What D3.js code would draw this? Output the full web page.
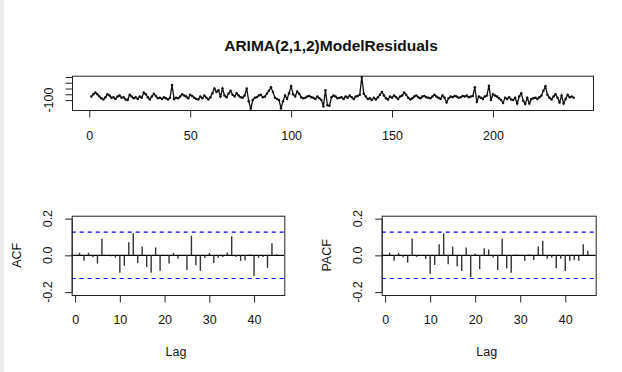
<!DOCTYPE html>
<html>
<head>
<meta charset="utf-8">
<script src="https://cdn.jsdelivr.net/npm/d3@7"></script>
<style>
  body { margin: 0; background: #fff; }
  svg text { font-family: "Liberation Sans", Arial, sans-serif; fill: #111; }
</style>
</head>
<body>
<svg width="622" height="372"></svg>
<script>
// residual series (index 1..240)
const residuals = [
  -70, -50, -35, -50, -70, -85, -95, -75, -50, -60,
  -80, -75, -90, -70, -60, -80, -75, -95, -100, -55,
  -70, -85, -75, -90, -70, -80, -35, -50, -75, -95,
  -70, -45, -65, -85, -80, -90, -75, -85, -95, -80,
  30, -90, -80, -85, -70, -50, -60, -70, -85, -55,
  -65, -80, -90, -95, -70, -85, -60, -80, -95, -75,
  -40, 0, -30, -15, -70, 0, -60, -75, -45, -20,
  -55, -70, -40, -60, -75, -80, -60, 0, -110, -175,
  -100, -80, -75, -60, -55, -75, -70, -45, -20, 10,
  -30, -80, -90, -100, -170, -110, -60, -90, -40, 20,
  -50, -70, -25, -45, -75, -85, -80, -70, -65, -75,
  -80, -90, -70, -85, -100, -155, -15, -145, -150, -75,
  -60, -70, -85, -80, -75, -90, -70, -80, -60, -75,
  -90, -70, -65, -55, 100, -45, -70, -90, -85, -100,
  -80, -95, -75, -55, -30, -60, -85, -95, -70, -80,
  -60, -75, -90, -70, -60, -35, -55, -80, -95, -85,
  -70, -60, -75, -85, -70, -65, -75, -80, -85, -70,
  -55, -70, -80, -90, -60, -80, -120, -85, -70, -75,
  -65, -70, -80, -75, -65, -70, -60, -75, -70, -65,
  10, -115, -70, -80, -90, -70, -60, 25, -100, -50,
  -60, -70, -85, -100, -125, -80, -90, -75, -95, -100,
  -80, -130, -70, -40, -105, -135, -80, -130, -90, -85,
  -80, -90, -75, -60, -20, 20, -55, -80, -95, -70,
  -50, -80, -120, -60, -130, -90, -55, -75, -70, -80
];
const seriesXTicks = [0, 50, 100, 150, 200];
const seriesYTicks = [-100, -50, 0, 50, 100];
const seriesYLabels = ["-100", "", "", "", ""];

const acfValues = [
  0.014, -0.03, 0.014, -0.01, -0.045, 0.09, -0.003, -0.005, -0.012, -0.095,
  -0.057, 0.072, 0.12, -0.041, 0.048, -0.063, -0.095, 0.043, -0.084, -0.003,
  -0.045, 0.013, -0.018, 0.002, -0.08, 0.107, -0.054, -0.084, -0.014, 0.013,
  -0.041, -0.013, -0.009, 0.016, 0.104, -0.009, -0.03, -0.027, 0.005, -0.113,
  -0.013, -0.009, -0.068, 0.066, 0.006
];
const pacfValues = [
  0.014, -0.03, 0.014, -0.01, -0.04, 0.09, -0.008, -0.002, -0.02, -0.1,
  -0.052, 0.06, 0.12, -0.048, 0.048, -0.06, -0.085, 0.043, -0.118, 0.01,
  -0.075, 0.038, 0.032, -0.012, -0.08, 0.09, -0.07, -0.095, 0.005, 0.002,
  -0.03, 0.005, -0.025, 0.048, 0.08, -0.018, -0.012, -0.07, -0.018, -0.085,
  -0.03, -0.025, -0.03, 0.06, 0.025
];
const lagTicks = [0, 10, 20, 30, 40];
const corrTicks = [-0.2, 0, 0.2];
const corrLabels = ["-0.2", "0.0", "0.2"];
const nObs = residuals.length;
const ciBound = 1.96 / Math.sqrt(nObs);

let svg = d3.select("svg");

// left frame strip of the screenshot
svg.append("rect").attr("x", 0).attr("y", 0).attr("width", 4).attr("height", 372).attr("fill", "#ececec");

// R-style 4% padded range
function pad(ext) {
  let d = (ext[1] - ext[0]) * 0.04;
  return [ext[0] - d, ext[1] + d];
}

function box(g, x0, x1, y0, y1) {
  g.append("rect")
    .attr("x", x0 + 0.5).attr("y", y0 + 0.5)
    .attr("width", x1 - x0).attr("height", y1 - y0)
    .attr("fill", "none").attr("stroke", "#222");
}

function bottomAxis(g, x, ticks, y0, labelY) {
  let ax = g.append("g").attr("transform", "translate(0," + (y0 + 0.5) + ")")
    .call(d3.axisBottom(x).tickValues(ticks).tickSize(7).tickPadding(0).tickFormat(d3.format("d")));
  ax.select(".domain").attr("stroke", "#222")
    .attr("d", "M" + x(ticks[0]) + ",0H" + x(ticks[ticks.length - 1]));
  ax.selectAll(".tick line").attr("stroke", "#222");
  ax.selectAll(".tick text").attr("y", labelY).attr("dy", 0)
    .style("font-size", "12.5px").attr("fill", "#111");
}

function leftAxis(g, y, ticks, labels, x0, labelX) {
  let ax = g.append("g").attr("transform", "translate(" + (x0 + 0.5) + ",0)")
    .call(d3.axisLeft(y).tickValues(ticks).tickSize(7).tickFormat(""));
  ax.select(".domain").attr("stroke", "#222")
    .attr("d", "M0," + y(ticks[0]) + "V" + y(ticks[ticks.length - 1]));
  ax.selectAll(".tick line").attr("stroke", "#222");
  ticks.forEach(function (t, i) {
    if (!labels[i]) return;
    g.append("text")
      .attr("transform", "translate(" + labelX + "," + y(t) + ") rotate(-90)")
      .attr("text-anchor", "middle").attr("dy", "0.35em")
      .style("font-size", "12.5px")
      .text(labels[i]);
  });
}

// ---- title
svg.append("text")
  .attr("x", 331).attr("y", 51)
  .attr("text-anchor", "middle")
  .style("font-size", "15.5px").style("font-weight", "bold")
  .text("ARIMA(2,1,2)ModelResiduals");

// ---- residual series
{
  let g = svg.append("g");
  let left = 72, right = 593, top = 75.7, bottom = 110;
  let x = d3.scaleLinear().domain(pad([1, nObs])).range([left, right]);
  let y = d3.scaleLinear().domain(pad(d3.extent(residuals))).range([bottom, top]);
  let pts = residuals.map(function (v, i) { return [i + 1, v]; });

  g.append("path")
    .datum(pts)
    .attr("fill", "none").attr("stroke", "#111").attr("stroke-width", 1.3)
    .attr("d", d3.line().x(function (d) { return x(d[0]); }).y(function (d) { return y(d[1]); }));
  g.selectAll("circle.pt").data(pts).enter().append("circle")
    .attr("class", "pt")
    .attr("cx", function (d) { return x(d[0]); })
    .attr("cy", function (d) { return y(d[1]); })
    .attr("r", 1.25).attr("fill", "#111");

  box(g, left, right, top, bottom);
  bottomAxis(g, x, seriesXTicks, bottom, 29);
  leftAxis(g, y, seriesYTicks, seriesYLabels, left, 49);
}

// ---- correlogram panels
function corrPanel(values, left, right, yLabel, yLabelX, tickLabelX) {
  let g = svg.append("g");
  let top = 215.7, bottom = 295;
  let x = d3.scaleLinear().domain(pad([1, values.length])).range([left, right]);
  let y = d3.scaleLinear().domain(pad([-0.2, 0.2])).range([bottom, top]);

  // zero line
  g.append("line")
    .attr("x1", left).attr("x2", right)
    .attr("y1", y(0)).attr("y2", y(0))
    .attr("stroke", "#000").attr("stroke-width", 1.3);

  // confidence bounds
  [ciBound, -ciBound].forEach(function (c) {
    g.append("line")
      .attr("x1", left).attr("x2", right)
      .attr("y1", y(c)).attr("y2", y(c))
      .attr("stroke", "#0000ff").attr("stroke-width", 1.1)
      .attr("stroke-dasharray", "4,4");
  });

  g.selectAll("line.bar").data(values).enter().append("line")
    .attr("class", "bar")
    .attr("x1", function (d, i) { return x(i + 1); })
    .attr("x2", function (d, i) { return x(i + 1); })
    .attr("y1", y(0))
    .attr("y2", function (d) { return y(d); })
    .attr("stroke", "#333").attr("stroke-width", 1.4);

  box(g, left, right, top, bottom);
  bottomAxis(g, x, lagTicks, bottom, 28);
  leftAxis(g, y, corrTicks, corrLabels, left, tickLabelX);

  g.append("text")
    .attr("x", (left + right) / 2 - 2).attr("y", 356)
    .attr("text-anchor", "middle").style("font-size", "12.5px")
    .text("Lag");
  g.append("text")
    .attr("transform", "translate(" + yLabelX + "," + y(0) + ") rotate(-90)")
    .attr("text-anchor", "middle").attr("dy", "0.35em").style("font-size", "12.5px")
    .text(yLabel);
}

corrPanel(acfValues, 71.7, 284.3, "ACF", 17, 48);
corrPanel(pacfValues, 381.7, 595.7, "PACF", 327, 358);
</script>
</body>
</html>
